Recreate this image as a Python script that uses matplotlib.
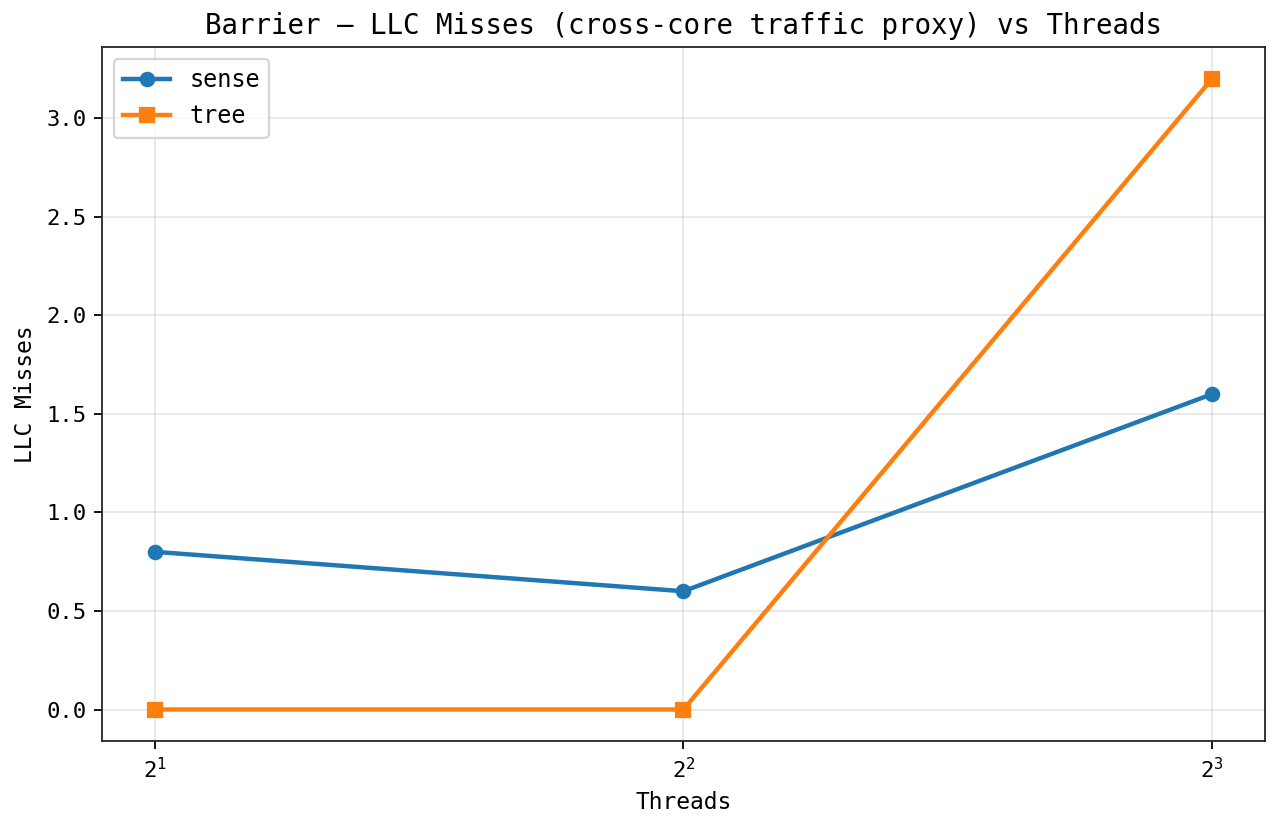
import numpy as np
import matplotlib
matplotlib.use("Agg")
import matplotlib.pyplot as plt

threads = [2, 4, 8]
sense = [0.8, 0.6, 1.6]
tree = [0.0, 0.0, 3.2]

plt.rcParams['font.family'] = ['DejaVu Sans Mono', 'DejaVu Sans']

fig, ax = plt.subplots(figsize=(1279 / 160, 828 / 160), dpi=160)
fig.subplots_adjust(left=0.0797, right=0.989, top=0.943, bottom=0.105)

ax.plot(threads, sense, marker='o', linewidth=2, label='sense')
ax.plot(threads, tree, marker='s', linewidth=2, label='tree')
ax.set_xscale('log', base=2)
ax.set_xticks(threads)
ax.set_xlabel('Threads', fontsize=10.3)
ax.set_ylabel('LLC Misses', fontsize=10.3)
ax.set_title('Barrier — LLC Misses (cross-core traffic proxy) vs Threads', fontsize=12.4)
ax.grid(True, alpha=0.3)
for s in ax.spines.values():
    s.set_color('#222222')
ax.legend(loc='upper left', fontsize=10.6)

fig.savefig('out.png', dpi=160)
